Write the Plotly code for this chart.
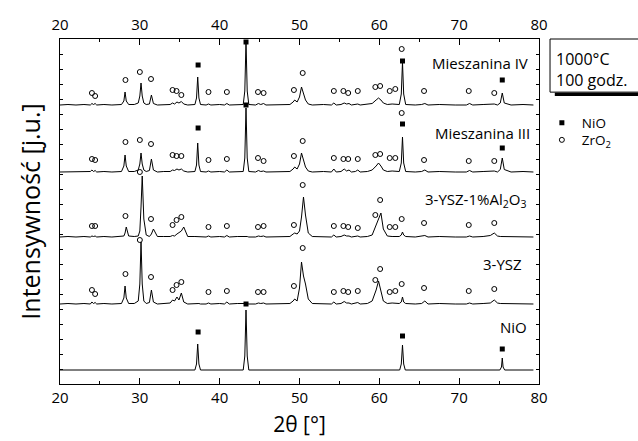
import plotly.graph_objects as go

# ---------------- data ----------------
# common 2-theta grid for the ZrO2-containing patterns
tt_grid = [20.0, 21.0, 22.0, 23.0, 23.8, 24.0, 24.2, 24.4, 24.6, 25.5,
           26.5, 27.7, 28.0, 28.15, 28.3, 28.6, 29.3, 29.8, 30.0, 30.15,
           30.3, 30.5, 30.8, 31.2, 31.45, 31.7, 32.2, 33.0, 33.8, 34.1,
           34.35, 34.65, 34.9, 35.2, 35.5, 36.0, 36.9, 37.1, 37.25, 37.4,
           37.6, 38.3, 38.6, 38.9, 40.0, 40.6, 40.9, 41.2, 42.2, 42.95,
           43.15, 43.3, 43.45, 43.65, 44.5, 44.85, 45.15, 45.5, 45.8, 47.0,
           48.8, 49.2, 49.4, 49.7, 50.0, 50.25, 50.5, 50.75, 51.1, 51.6,
           53.0, 54.0, 54.3, 54.6, 55.2, 55.6, 55.9, 56.2, 56.5, 57.0,
           57.3, 57.6, 58.5, 59.1, 59.6, 59.9, 60.2, 60.5, 61.0, 61.6,
           62.5, 62.75, 62.9, 63.05, 63.3, 64.5, 65.3, 65.7, 66.1, 67.5,
           69.5, 70.9, 71.3, 71.7, 73.0, 73.9, 74.4, 74.8, 75.15, 75.4,
           75.65, 76.5, 78.0, 79.3]

int_miesz4 = [0, 0.5, 0, 0.5, 0, 1.5, 0.5, 1.5, 0, 0.5,
              0, 0.5, 4, 13, 4, 0.5, 0.5, 2, 9, 22,
              9, 2, 0.5, 1, 10, 1.5, 0, 0.5, 0.5, 2,
              1, 3, 2, 3.5, 1, 0, 0.5, 7, 28, 7,
              0.5, 0, 1, 0, 0.5, 0, 1.5, 0, 0.5, 0.5,
              14, 64, 14, 0.5, 0, 1.5, 0.5, 1.5, 0, 0.5,
              0.5, 3, 5, 3, 8, 18, 11, 5, 1, 0,
              0.5, 0, 2, 0, 0.5, 2, 1, 1.5, 0, 0.5,
              1, 0, 0.5, 1.5, 5, 7, 5, 2, 0.5, 1,
              0.5, 11, 43, 11, 0.5, 0, 0.5, 1.5, 0, 0.5,
              0, 0, 1.5, 0, 0.5, 0.5, 1, 0, 2, 12,
              2, 0, 0.5, 0]

int_miesz3 = [0, 0, 0.5, 0, 0.5, 2, 0.5, 1.5, 0, 0.5,
              0, 0.5, 6, 17, 6, 0.5, 0.5, 2, 8, 19,
              8, 2, 0.5, 1.5, 13, 2, 0, 0.5, 0.5, 2,
              1.5, 3, 2, 3, 1, 0, 0.5, 7, 29, 7,
              0.5, 0, 1, 0, 0.5, 0, 2, 0, 0.5, 0.5,
              14, 64, 14, 0.5, 0, 1.5, 0.5, 1, 0, 0.5,
              0.5, 3, 5, 3, 8, 19, 11, 5, 1, 0,
              0.5, 0, 3, 0, 0.5, 3, 1, 2, 0, 0.5,
              2, 0, 0.5, 2, 6, 9, 6, 2, 0.5, 1,
              0.5, 9, 35, 9, 0.5, 0, 0.5, 2, 0, 0.5,
              0, 0, 1.5, 0, 0.5, 0.5, 1, 0, 2.5, 14,
              2.5, 0, 0.5, 0]

int_ysz_al = [0, 0.5, 0, 0.5, 0, 1, 0.5, 1, 0, 0.5,
              0, 0.5, 1, 4, 10, 1, 0.5, 1, 6, 30,
              61, 18, 2, 0.5, 3, 8, 0.5, 0.5, 0.5, 1.5,
              1, 3, 4, 6, 10, 0.5, 0.5, 0.5, 0.5, 0.5,
              0, 0, 1, 0, 0.5, 0, 1.5, 0, 0.5, 0,
              0.5, 0.5, 0.5, 0, 0, 1, 0.5, 1, 0, 0.5,
              0.5, 3, 4, 3, 6, 20, 40, 22, 4, 0.5,
              0.5, 0, 2, 0, 0.5, 2, 1, 1, 0, 0.5,
              1, 0, 0.5, 2, 12, 20, 24, 8, 1, 0.5,
              0.5, 2, 5, 2, 0.5, 0, 0.5, 1.5, 0, 0.5,
              0, 0, 1, 0, 0.5, 1.5, 4, 1, 0.5, 0.5,
              0, 0, 0.5, 0]

int_ysz = [0, 0.5, 0, 0.5, 0, 2, 0.5, 1.5, 0, 0.5,
           0, 0.5, 6, 18, 6, 0.5, 0.5, 3, 20, 62,
           20, 3, 0.5, 1.5, 14, 2, 0, 0.5, 1, 4,
           3, 7, 4, 11, 2, 0, 0.5, 0.5, 0.5, 0.5,
           0, 0, 1, 0, 0.5, 0, 2, 0, 0.5, 0,
           0.5, 0.5, 0.5, 0, 0, 1, 0.5, 1, 0, 0.5,
           0.5, 3, 5, 3, 16, 42, 28, 20, 5, 0.5,
           0.5, 0, 2, 0, 0.5, 2.5, 1, 1, 0, 0.5,
           1.5, 0, 0.5, 3, 14, 23, 14, 3, 0.5, 1,
           0.5, 2, 7, 2, 0.5, 0, 0.5, 3, 0, 0.5,
           0, 0, 1, 0, 0.5, 1, 4, 1, 0.5, 0.5,
           0, 0, 0.5, 0]

# pure NiO pattern
tt_nio = [20.0, 36.9, 37.1, 37.25, 37.4, 37.6, 42.95, 43.15, 43.3, 43.45,
          43.65, 62.55, 62.75, 62.9, 63.05, 63.25, 75.1, 75.3, 75.4, 75.5,
          75.7, 79.3]
int_nio = [0, 0, 6, 26, 6, 0, 0, 14, 60, 14,
           0, 0, 6, 25, 6, 0, 0, 3, 12, 3,
           0, 0]

# vertical offsets of the stacked patterns
offset_miesz4 = 279
offset_miesz3 = 212
offset_ysz_al = 147
offset_ysz = 80
offset_nio = 14

# phase markers: ZrO2 (open circles)
zro2_tt = [24.0, 24.4, 28.2, 30.0, 31.4, 34.1, 34.6, 35.2, 38.6, 40.9,
           44.8, 45.5, 49.3, 50.4, 54.3, 55.5, 56.1, 57.3, 59.5, 60.1,
           61.3, 62.0, 62.8, 65.6, 71.2, 74.4]
zro2_miesz4 = [12, 9, 25, 33, 26, 15, 14, 10, 13, 13,
               13, 12, 15, 32, 14, 14, 12, 14, 18, 19,
               14, 16, 56, 14, 14, 12]
zro2_miesz3 = [13, 12, 30, 32, 28, 17, 16, 16, 12, 13,
               14, 11, 16, 31, 14, 13, 13, 13, 17, 18,
               14, 14, 59, 12, 11, 11]
zro2_ysz_al = [11, 11, 21, 65, 18, 12, 17, 20, 10, 11,
               10, 11, 12, 52, 11, 11, 10, 9, 22, 37,
               10, 10, 18, 14, 12, 14]
zro2_ysz = [14, 10, 30, 64, 27, 14, 19, 22, 12, 13,
            12, 12, 18, 56, 12, 13, 12, 13, 24, 35,
            12, 13, 20, 16, 13, 15]

# phase markers: NiO (filled squares)
nio_tt = [37.3, 43.3, 62.9, 75.4]
nio_miesz4 = [40, 63, 44, 25]
nio_miesz3 = [44, 67, 48, 24]
nio_nio = [38, 66, 34, 21]

# ---------------- figure ----------------
FONT = "Open Sans"
fig = go.Figure()

patterns = [
    (tt_grid, int_miesz4, offset_miesz4),
    (tt_grid, int_miesz3, offset_miesz3),
    (tt_grid, int_ysz_al, offset_ysz_al),
    (tt_grid, int_ysz, offset_ysz),
    (tt_nio, int_nio, offset_nio),
]
for tt, ints, off in patterns:
    fig.add_trace(go.Scatter(x=tt, y=[v + off for v in ints], mode="lines",
                             line=dict(color="black", width=1),
                             showlegend=False, hoverinfo="skip"))

nio_sets = [(nio_miesz4, offset_miesz4), (nio_miesz3, offset_miesz3), (nio_nio, offset_nio)]
for i, (vals, off) in enumerate(nio_sets):
    fig.add_trace(go.Scatter(x=nio_tt, y=[v + off for v in vals], mode="markers",
                             marker=dict(symbol="square", size=5, color="black",
                                         line=dict(width=0)),
                             name="NiO", legend="legend", showlegend=(i == 0)))

zro2_sets = [(zro2_miesz4, offset_miesz4), (zro2_miesz3, offset_miesz3),
             (zro2_ysz_al, offset_ysz_al), (zro2_ysz, offset_ysz)]
for i, (vals, off) in enumerate(zro2_sets):
    fig.add_trace(go.Scatter(x=zro2_tt, y=[v + off for v in vals], mode="markers",
                             marker=dict(symbol="circle-open", size=5, color="black",
                                         line=dict(width=1)),
                             name="ZrO<sub>2</sub>", legend="legend2",
                             showlegend=(i == 0)))

# empty trace so that the mirrored top axis (with labels) is drawn
fig.add_trace(go.Scatter(x=[], y=[], xaxis="x2", yaxis="y", showlegend=False,
                         hoverinfo="skip"))

labels = [("Mieszanina IV", 78.9, 321), ("Mieszanina III", 79.1, 251),
          ("3-YSZ-1%Al<sub>2</sub>O<sub>3</sub>", 78.6, 184), ("3-YSZ", 78.1, 120),
          ("NiO", 78.8, 57)]
for txt, xx, yy in labels:
    fig.add_annotation(x=xx, y=yy, text=txt, showarrow=False, xanchor="right",
                       yanchor="middle", font=dict(family=FONT, size=15, color="black"))

# info box at top right
fig.add_shape(type="rect", xref="paper", yref="paper", x0=1.033, x1=1.30,
              y0=0.835, y1=0.845, fillcolor="black", line=dict(width=0))
fig.add_shape(type="rect", xref="paper", yref="paper", x0=1.023, x1=1.30,
              y0=0.846, y1=1.0, fillcolor="white", line=dict(color="black", width=1))
fig.add_annotation(xref="paper", yref="paper", x=1.032, y=0.942, text="1000°C",
                   showarrow=False, xanchor="left", yanchor="middle",
                   font=dict(family=FONT, size=16, color="black"))
fig.add_annotation(xref="paper", yref="paper", x=1.032, y=0.881, text="100 godz.",
                   showarrow=False, xanchor="left", yanchor="middle",
                   font=dict(family=FONT, size=16, color="black"))

axis_common = dict(range=[20, 80], dtick=10, ticks="inside", ticklen=6, tickwidth=1,
                   tickcolor="black", showline=True, linecolor="black", linewidth=1,
                   showgrid=False, zeroline=False, automargin=False,
                   minor=dict(ticks="inside", ticklen=3, dtick=5, tickcolor="black"),
                   tickfont=dict(family=FONT, size=15, color="black"))

legend_common = dict(x=1.006, xanchor="left", yanchor="middle",
                     font=dict(family=FONT, size=13.5, color="black"),
                     bgcolor="rgba(0,0,0,0)", borderwidth=0)

fig.update_layout(
    width=638, height=441,
    margin=dict(l=60, r=99, t=39, b=57),
    plot_bgcolor="white", paper_bgcolor="white",
    font=dict(family=FONT, color="black"),
    xaxis=dict(**axis_common, ticklabelstandoff=0,
               title=dict(text="2θ [°]", font=dict(family=FONT, size=21, color="black"),
                          standoff=11)),
    xaxis2=dict(**axis_common, overlaying="x", side="top", anchor="y",
                ticklabelstandoff=2),
    yaxis=dict(range=[0, 345], dtick=15, ticks="inside", ticklen=3, tickcolor="black",
               showticklabels=False, showline=True, linecolor="black", linewidth=1,
               mirror="ticks", showgrid=False, zeroline=False, automargin=False,
               title=dict(text="Intensywność [j.u.]",
                          font=dict(family=FONT, size=25, color="black"), standoff=11)),
    legend=dict(**legend_common, y=0.7565),
    legend2=dict(**legend_common, y=0.707),
)

fig.write_html("out.html", config={"displayModeBar": False},
               post_script="document.body.style.margin='0px';")
